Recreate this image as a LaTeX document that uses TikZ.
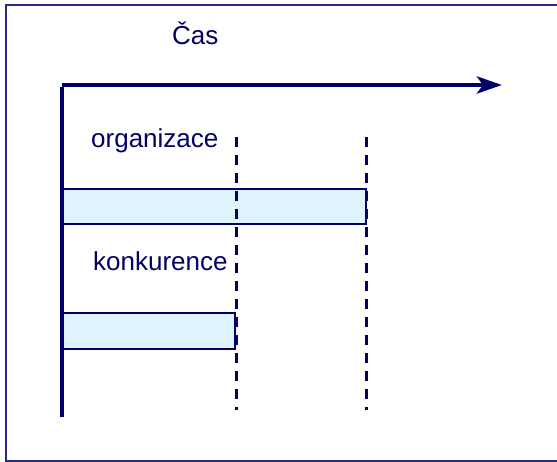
\documentclass[tikz,border=0pt]{standalone}
\usepackage{fontspec}
\setmainfont{Liberation Sans}
\usetikzlibrary{arrows.meta}
\definecolor{ink}{HTML}{000066}
\definecolor{framec}{HTML}{2A2A8A}
\definecolor{barfill}{HTML}{DDF3FD}
\tikzset{
  label/.style={anchor=base west, inner sep=0pt, text=ink, font=\fontsize{26}{30}\selectfont},
  bar/.style={draw=ink, line width=2.6pt, fill=barfill},
  mark line/.style={draw=ink, line width=3pt, dash pattern=on 10pt off 8pt},
  axisline/.style={draw=ink, line width=4.5pt},
}
\begin{document}
\begin{tikzpicture}[x=1pt, y=-1pt]
\useasboundingbox (0,0) rectangle (557,462);
% outer frame (open on the right)
\draw[framec, line width=2.2pt] (557,5) -- (6,5) -- (6,461) -- (557,461);

% title
\node[label] (cas) at (172,45) {Čas};

% activity bars
\path[bar] (62,189) rectangle (366,224);
\node[inner sep=0pt] (bar1) at (214,206.5) {};
\path[bar] (62,313) rectangle (235,349);
\node[inner sep=0pt] (bar2) at (148.5,331) {};

% time markers
\coordinate (m1top) at (236,137);
\coordinate (m1bot) at (236,410);
\coordinate (m2top) at (366,137);
\coordinate (m2bot) at (366,410);
\draw[mark line] (m1top) -- (m1bot);
\draw[mark line] (m2top) -- (m2bot);

% labels
\node[label] (org) at (91,148) {organizace};
\node[label] (kon) at (93,271) {konkurence};

% axes
\coordinate (origin) at (62,85);
\coordinate (tend) at (502,85);
\coordinate (ybot) at (62,417);
\draw[axisline] (ybot) -- ([yshift=-2.25pt]origin);
\draw[axisline, -{Stealth[length=25pt, width=17pt, inset=6pt]}] (origin) -- (tend);
\end{tikzpicture}
\end{document}
